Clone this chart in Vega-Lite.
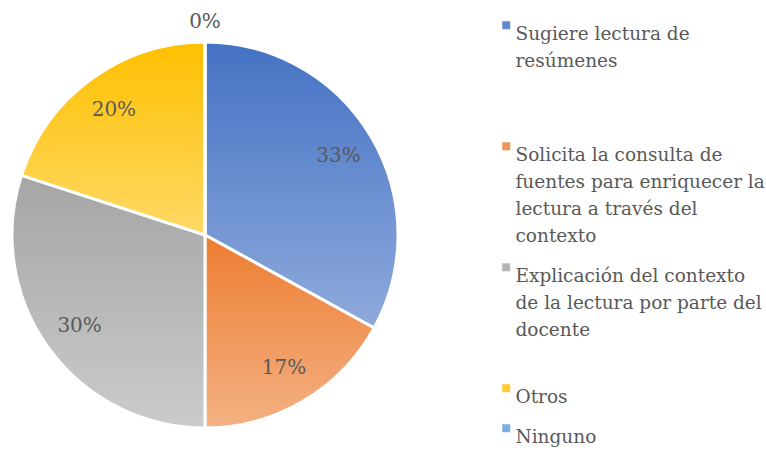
{
  "$schema": "https://vega.github.io/schema/vega-lite/v6.json",
  "autosize": "none",
  "width": 410,
  "height": 430,
  "padding": {"left": 0, "top": 20, "right": 356, "bottom": 0},
  "background": "white",
  "config": {"view": {"stroke": null}, "font": "DejaVu Serif"},
  "data": {
    "values": [
      {"categoria": "Sugiere lectura de resúmenes", "porcentaje": 0.33, "orden": 1},
      {"categoria": "Solicita la consulta de fuentes para enriquecer la lectura a través del contexto", "porcentaje": 0.17, "orden": 2},
      {"categoria": "Explicación del contexto de la lectura por parte del docente", "porcentaje": 0.30, "orden": 3},
      {"categoria": "Otros", "porcentaje": 0.20, "orden": 4},
      {"categoria": "Ninguno", "porcentaje": 0.0, "orden": 5}
    ]
  },
  "encoding": {
    "theta": {"field": "porcentaje", "type": "quantitative", "stack": true},
    "order": {"field": "orden", "type": "quantitative"}
  },
  "layer": [
    {
      "mark": {"type": "arc", "outerRadius": 193, "stroke": "white", "strokeWidth": 3},
      "encoding": {
        "fill": {
          "condition": [
            {"test": "datum.orden == 1", "value": {"gradient": "linear", "x1": 0, "y1": 0, "x2": 0, "y2": 1, "stops": [{"offset": 0, "color": "#4472C4"}, {"offset": 1, "color": "#8FAADC"}]}},
            {"test": "datum.orden == 2", "value": {"gradient": "linear", "x1": 0, "y1": 0, "x2": 0, "y2": 1, "stops": [{"offset": 0, "color": "#ED7D31"}, {"offset": 1, "color": "#F4B183"}]}},
            {"test": "datum.orden == 3", "value": {"gradient": "linear", "x1": 0, "y1": 0, "x2": 0, "y2": 1, "stops": [{"offset": 0, "color": "#A5A5A5"}, {"offset": 1, "color": "#CBCBCB"}]}},
            {"test": "datum.orden == 4", "value": {"gradient": "linear", "x1": 0, "y1": 0, "x2": 0, "y2": 1, "stops": [{"offset": 0, "color": "#FFC000"}, {"offset": 1, "color": "#FFD966"}]}}
          ],
          "value": {"gradient": "linear", "x1": 0, "y1": 0, "x2": 0, "y2": 1, "stops": [{"offset": 0, "color": "#5B9BD5"}, {"offset": 1, "color": "#9DC3E6"}]}
        }
      }
    },
    {
      "mark": {"type": "arc", "outerRadius": 0, "innerRadius": 0},
      "encoding": {
        "color": {
          "field": "categoria",
          "type": "nominal",
          "scale": {
            "domain": [
              "Sugiere lectura de resúmenes",
              "Solicita la consulta de fuentes para enriquecer la lectura a través del contexto",
              "Explicación del contexto de la lectura por parte del docente",
              "Otros",
              "Ninguno"
            ],
            "range": ["#6189D0", "#F09558", "#B5B5B5", "#FFCA33", "#78AEDD"]
          },
          "legend": {
            "title": null,
            "orient": "none",
            "legendX": 497,
            "legendY": -4,
            "padding": 0,
            "symbolType": "square",
            "symbolSize": 64,
            "symbolStrokeWidth": 0,
            "symbolOpacity": 1,
            "labelFont": "DejaVu Serif",
            "labelFontSize": 18.5,
            "labelColor": "#595959",
            "labelLimit": 300,
            "labelOffset": 0,
            "rowPadding": 12,
            "labelBaseline": "top",
            "labelExpr": "datum.label == 'Sugiere lectura de resúmenes' ? ['Sugiere lectura de', 'resúmenes', '', ''] : datum.label == 'Otros' || datum.label == 'Ninguno' ? datum.label : datum.label[0] == 'S' ? ['Solicita la consulta de', 'fuentes para enriquecer la', 'lectura a través del', 'contexto'] : ['Explicación del contexto', 'de la lectura por parte del', 'docente', '']",
            "encode": {"labels": {"update": {"lineHeight": {"value": 27}}}}
          }
        }
      }
    },
    {
      "transform": [{"filter": "datum.porcentaje > 0"}],
      "mark": {"type": "text", "font": "DejaVu Serif", "fontSize": 20, "color": "#595959", "radius": 155},
      "encoding": {
        "text": {"field": "porcentaje", "type": "quantitative", "format": ".0%"}
      }
    },
    {
      "transform": [{"filter": "datum.porcentaje == 0"}],
      "mark": {"type": "text", "font": "DejaVu Serif", "fontSize": 20, "color": "#595959", "radius": 213},
      "encoding": {
        "text": {"field": "porcentaje", "type": "quantitative", "format": ".0%"}
      }
    }
  ]
}
